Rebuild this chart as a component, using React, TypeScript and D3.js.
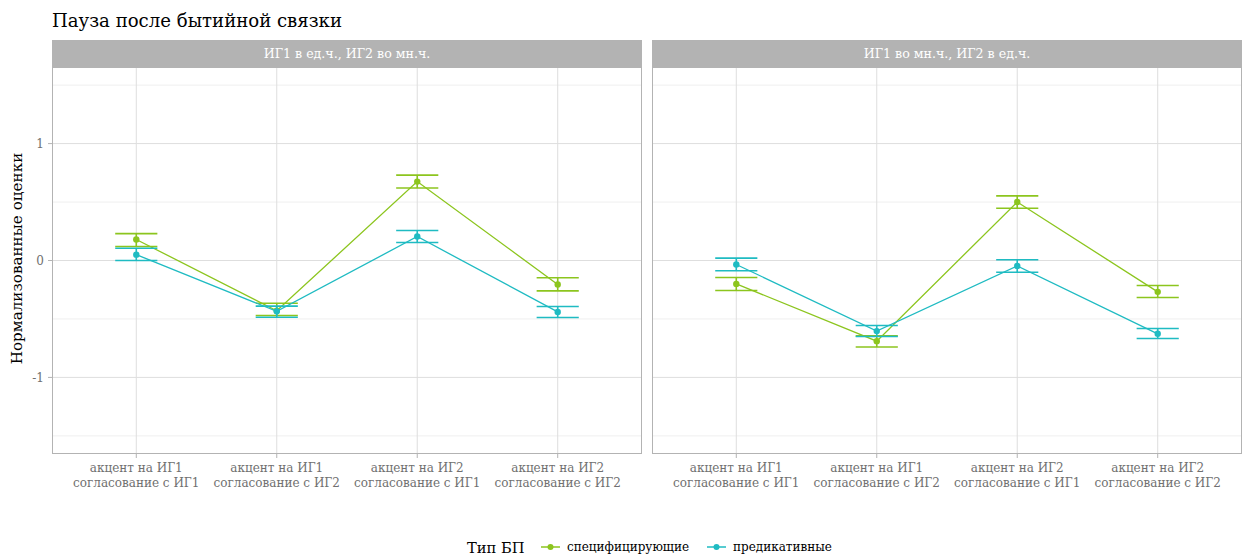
import React, { useEffect } from "react";
import * as d3 from "d3";

const title = "Пауза после бытийной связки";
const panels = ["ИГ1 в ед.ч., ИГ2 во мн.ч.", "ИГ1 во мн.ч., ИГ2 в ед.ч."];
const categories = [
  ["акцент на ИГ1", "согласование с ИГ1"],
  ["акцент на ИГ1", "согласование с ИГ2"],
  ["акцент на ИГ2", "согласование с ИГ1"],
  ["акцент на ИГ2", "согласование с ИГ2"],
];
const legendTitle = "Тип БП";
const seriesNames = ["специфицирующие", "предикативные"];
const seriesColors = ["#8cc51e", "#1fbbc2"];
const yTicks = [-1, 0, 1];
const yMinor = [-1.5, -0.5, 0.5, 1.5];

// panel 1
const spec1Mean = [0.18, -0.43, 0.675, -0.205];
const spec1Lo = [0.12, -0.47, 0.62, -0.26];
const spec1Hi = [0.23, -0.365, 0.73, -0.148];
const pred1Mean = [0.05, -0.435, 0.205, -0.44];
const pred1Lo = [0.0, -0.485, 0.154, -0.487];
const pred1Hi = [0.105, -0.39, 0.256, -0.393];
// panel 2
const spec2Mean = [-0.2, -0.69, 0.5, -0.268];
const spec2Lo = [-0.256, -0.74, 0.447, -0.316];
const spec2Hi = [-0.145, -0.645, 0.553, -0.214];
const pred2Mean = [-0.034, -0.604, -0.046, -0.627];
const pred2Lo = [-0.088, -0.65, -0.1, -0.667];
const pred2Hi = [0.02, -0.556, 0.006, -0.581];

const panelData = [
  [
    { mean: spec1Mean, lo: spec1Lo, hi: spec1Hi },
    { mean: pred1Mean, lo: pred1Lo, hi: pred1Hi },
  ],
  [
    { mean: spec2Mean, lo: spec2Lo, hi: spec2Hi },
    { mean: pred2Mean, lo: pred2Lo, hi: pred2Hi },
  ],
];

const W = 1248;
const H = 557;
const FONT = "'DejaVu Serif', 'Liberation Serif', serif";
const panelX = [52, 652];
const panelW = 590;
const stripTop = 40;
const stripH = 27;
const plotTop = 67;
const plotBottom = 454;

export default function App() {
  useEffect(() => {
    document.body.style.margin = "0";
  }, []);
  const y = d3.scaleLinear().domain([-1.655, 1.655]).range([plotBottom, plotTop]);
  const xIdx = d3.scaleLinear().domain([0.4, 4.6]);
  const line = d3.line<[number, number]>().x((d) => d[0]).y((d) => d[1]);
  const grey = "#b3b3b3";
  const grid = "#dedede";
  const gridMinor = "#efefef";
  const tickCol = "#707070";

  return (
    <div style={{ position: "absolute", left: 0, top: 0 }}>
      <svg width={W} height={H} style={{ display: "block", background: "#fff" }}>
        <text x={52} y={27} fontFamily={FONT} fontSize={19} fill="#000" textLength={290} lengthAdjust="spacingAndGlyphs">
          {title}
        </text>
        <text
          transform={`translate(22,${(plotTop + plotBottom) / 2 - 2}) rotate(-90)`}
          textAnchor="middle"
          fontFamily={FONT}
          fontSize={15.2}
          fill="#000"
        >
          Нормализованные оценки
        </text>
        {yTicks.map((t) => (
          <g key={t}>
            <text
              x={44}
              y={y(t)}
              dy="0.35em"
              textAnchor="end"
              fontFamily={FONT}
              fontSize={12}
              fill={tickCol}
            >
              {t}
            </text>
            <line x1={48} x2={52} y1={y(t)} y2={y(t)} stroke={grey} />
          </g>
        ))}
        {panels.map((p, pi) => {
          const x0 = panelX[pi];
          const x = xIdx.copy().range([x0, x0 + panelW]);
          return (
            <g key={p}>
              <rect x={x0} y={stripTop} width={panelW} height={stripH} fill={grey} />
              <text
                x={x0 + panelW / 2}
                y={stripTop + stripH / 2}
                dy="0.35em"
                textAnchor="middle"
                fontFamily={FONT}
                fontSize={12.6}
                fill="#fff"
              >
                {p}
              </text>
              {yMinor.map((t) => (
                <line key={t} x1={x0} x2={x0 + panelW} y1={y(t)} y2={y(t)} stroke={gridMinor} strokeWidth={1} />
              ))}
              {yTicks.map((t) => (
                <line key={t} x1={x0} x2={x0 + panelW} y1={y(t)} y2={y(t)} stroke={grid} strokeWidth={1} />
              ))}
              {categories.map((c, i) => (
                <g key={i}>
                  <line x1={x(i + 1)} x2={x(i + 1)} y1={plotTop} y2={plotBottom} stroke={grid} strokeWidth={1} />
                  <line x1={x(i + 1)} x2={x(i + 1)} y1={plotBottom} y2={plotBottom + 4} stroke={grey} />
                  {c.map((s, k) => (
                    <text
                      key={k}
                      x={x(i + 1)}
                      y={472 + k * 15}
                      textAnchor="middle"
                      fontFamily={FONT}
                      fontSize={12}
                      fill={tickCol}
                    >
                      {s}
                    </text>
                  ))}
                </g>
              ))}
              {panelData[pi].map((s, si) => {
                const col = seriesColors[si];
                const pts: [number, number][] = s.mean.map((m, i) => [x(i + 1), y(m)]);
                return (
                  <g key={si}>
                    {s.mean.map((m, i) => {
                      const cx = x(i + 1);
                      const hw = (x(1.15) - x(0.85)) / 2;
                      return (
                        <g key={i} stroke={col} strokeWidth={1.6}>
                          <line x1={cx - hw} x2={cx + hw} y1={y(s.hi[i])} y2={y(s.hi[i])} />
                          <line x1={cx - hw} x2={cx + hw} y1={y(s.lo[i])} y2={y(s.lo[i])} />
                          <line x1={cx} x2={cx} y1={y(s.hi[i])} y2={y(s.lo[i])} />
                        </g>
                      );
                    })}
                    <path d={line(pts) || ""} fill="none" stroke={col} strokeWidth={1.3} />
                    {pts.map((pt, i) => (
                      <circle key={i} cx={pt[0]} cy={pt[1]} r={3.2} fill={col} />
                    ))}
                  </g>
                );
              })}
              <rect
                x={x0 + 0.5}
                y={plotTop + 0.5}
                width={panelW - 1}
                height={plotBottom - plotTop - 1}
                fill="none"
                stroke={grey}
              />
            </g>
          );
        })}
        <g fontFamily={FONT}>
          <text x={467} y={553} fontSize={14.7} fill="#000">
            {legendTitle}
          </text>
          {seriesNames.map((n, i) => {
            const kx = [541, 707][i];
            return (
              <g key={n}>
                <line x1={kx} x2={kx + 19} y1={547} y2={547} stroke={seriesColors[i]} strokeWidth={1.5} />
                <circle cx={kx + 9.5} cy={547} r={3} fill={seriesColors[i]} />
                <text x={kx + 26} y={551} fontSize={12} fill="#000">
                  {n}
                </text>
              </g>
            );
          })}
        </g>
      </svg>
    </div>
  );
}
